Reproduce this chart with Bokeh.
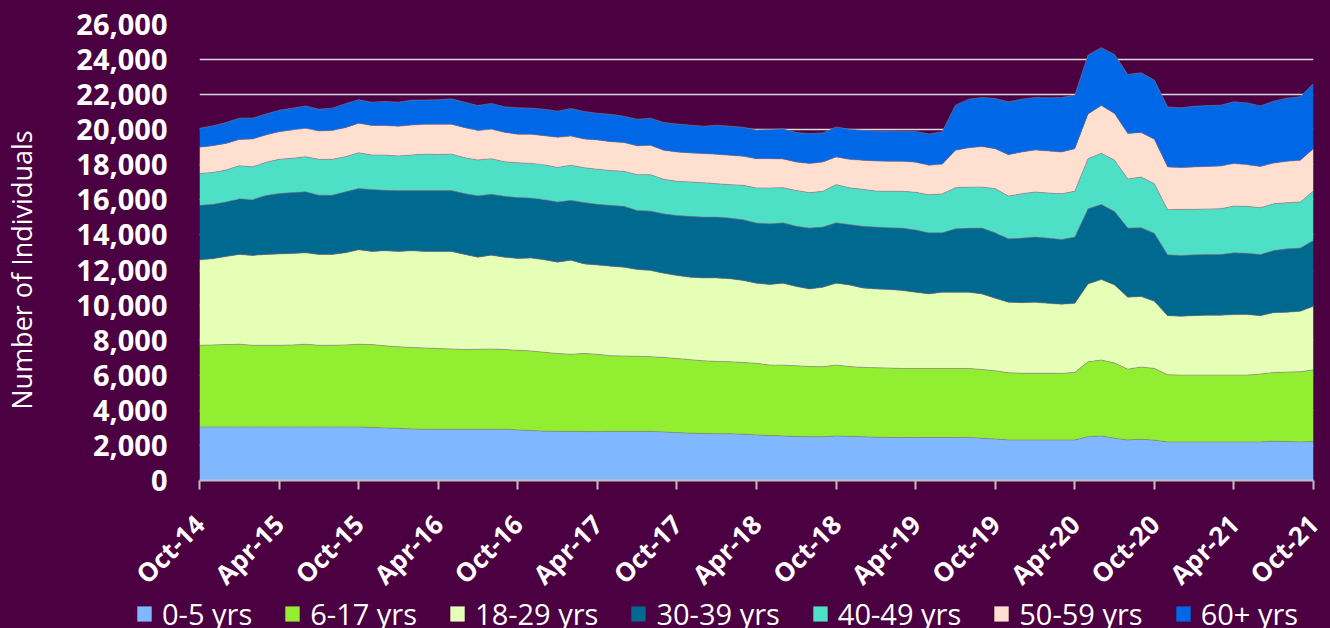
import numpy as np
from bokeh.plotting import figure
from bokeh.layouts import column
from bokeh.models import (ColumnDataSource, FixedTicker, NumeralTickFormatter,
                          Legend, LegendItem)
from bokeh.embed import file_html
from bokeh.resources import INLINE
import math

# ---------------- data (monthly, Oct-14 .. Oct-21) ----------------
tick_labels = ["Oct-14", "Apr-15", "Oct-15", "Apr-16", "Oct-16", "Apr-17", "Oct-17",
               "Apr-18", "Oct-18", "Apr-19", "Oct-19", "Apr-20", "Oct-20", "Apr-21", "Oct-21"]

age_groups = ["0-5 yrs", "6-17 yrs", "18-29 yrs", "30-39 yrs", "40-49 yrs", "50-59 yrs", "60+ yrs"]

age_0_5 = [3050, 3050, 3050, 3050, 3050, 3050, 3050, 3050, 3050, 3050, 3050, 3050,
           3050, 3020, 3000, 2980, 2940, 2920, 2920, 2920, 2920, 2920, 2920, 2920,
           2880, 2850, 2810, 2810, 2790, 2790, 2780, 2800, 2800, 2790, 2800, 2770,
           2730, 2700, 2680, 2660, 2660, 2640, 2600, 2560, 2540, 2510, 2490, 2490,
           2540, 2520, 2490, 2470, 2450, 2450, 2450, 2450, 2450, 2450, 2450, 2410,
           2370, 2310, 2310, 2310, 2310, 2310, 2310, 2500, 2540, 2410, 2310, 2350,
           2300, 2200, 2200, 2200, 2200, 2200, 2200, 2200, 2200, 2240, 2220, 2200,
           2220]
age_6_17 = [4660, 4680, 4700, 4720, 4660, 4660, 4660, 4680, 4720, 4660, 4660, 4680,
            4720, 4730, 4680, 4640, 4640, 4640, 4600, 4580, 4550, 4560, 4580, 4550,
            4550, 4540, 4500, 4430, 4410, 4450, 4420, 4310, 4300, 4290, 4260, 4250,
            4230, 4190, 4150, 4130, 4110, 4090, 4080, 4020, 4040, 4030, 4010, 4000,
            4040, 3980, 3960, 3960, 3960, 3940, 3940, 3940, 3940, 3940, 3940, 3920,
            3890, 3830, 3810, 3810, 3810, 3800, 3850, 4270, 4330, 4290, 4040, 4120,
            4090, 3830, 3810, 3810, 3810, 3810, 3810, 3810, 3870, 3920, 3960, 4000,
            4090]
age_18_29 = [4870, 4910, 5020, 5120, 5120, 5180, 5210, 5210, 5210, 5180, 5180, 5250,
             5380, 5310, 5420, 5440, 5520, 5500, 5540, 5560, 5420, 5250, 5350, 5260,
             5230, 5290, 5270, 5210, 5360, 5110, 5090, 5110, 5060, 4950, 4910, 4800,
             4730, 4700, 4720, 4760, 4730, 4670, 4570, 4590, 4670, 4520, 4420, 4530,
             4670, 4650, 4530, 4490, 4480, 4440, 4340, 4250, 4340, 4340, 4340, 4310,
             4130, 4020, 4020, 4040, 3980, 3940, 3940, 4440, 4590, 4450, 4100, 4020,
             3830, 3370, 3350, 3390, 3410, 3410, 3450, 3450, 3330, 3410, 3410, 3450,
             3620]
age_30_39 = [3110, 3110, 3110, 3180, 3190, 3360, 3440, 3480, 3480, 3380, 3380, 3480,
             3500, 3530, 3450, 3470, 3430, 3470, 3470, 3470, 3470, 3500, 3470, 3480,
             3470, 3430, 3440, 3430, 3420, 3500, 3460, 3470, 3470, 3370, 3390, 3390,
             3420, 3470, 3470, 3470, 3460, 3470, 3430, 3470, 3440, 3440, 3470, 3430,
             3440, 3450, 3520, 3530, 3520, 3560, 3560, 3480, 3390, 3620, 3660, 3750,
             3730, 3620, 3680, 3720, 3720, 3690, 3780, 4280, 4280, 4190, 3940, 3920,
             3880, 3470, 3470, 3470, 3470, 3470, 3520, 3500, 3490, 3540, 3620, 3600,
             3760]
age_40_49 = [1820, 1810, 1820, 1880, 1870, 1890, 1950, 1950, 2000, 2040, 2040, 2000,
             2040, 1970, 2010, 1970, 2030, 2080, 2060, 2080, 2040, 2040, 2030, 1960,
             1990, 1970, 1980, 1970, 2000, 1980, 2000, 1980, 2000, 2040, 2080, 1960,
             1950, 1960, 1960, 1900, 1910, 1960, 2000, 2040, 2000, 2040, 2020, 2040,
             2180, 2090, 2100, 2050, 2080, 2100, 2140, 2170, 2220, 2340, 2340, 2340,
             2520, 2440, 2530, 2570, 2570, 2610, 2610, 2860, 2920, 2920, 2800, 2890,
             2820, 2570, 2630, 2590, 2590, 2600, 2670, 2670, 2660, 2670, 2630, 2630,
             2810]
age_50_59 = [1490, 1530, 1520, 1500, 1580, 1560, 1580, 1620, 1620, 1620, 1640, 1660,
             1680, 1680, 1680, 1700, 1710, 1700, 1720, 1700, 1720, 1680, 1680, 1680,
             1620, 1660, 1660, 1720, 1660, 1640, 1670, 1650, 1640, 1640, 1670, 1660,
             1670, 1660, 1660, 1680, 1670, 1660, 1670, 1670, 1640, 1620, 1660, 1670,
             1580, 1620, 1660, 1720, 1710, 1710, 1720, 1680, 1690, 2140, 2240, 2310,
             2280, 2360, 2380, 2400, 2400, 2380, 2430, 2540, 2720, 2660, 2590, 2540,
             2540, 2440, 2380, 2420, 2430, 2440, 2420, 2380, 2360, 2320, 2360, 2380,
             2420]
age_60_plus = [1080, 1130, 1190, 1210, 1190, 1190, 1220, 1240, 1280, 1240, 1280, 1360,
               1340, 1330, 1370, 1370, 1420, 1380, 1400, 1450, 1450, 1430, 1470, 1460,
               1510, 1490, 1510, 1490, 1570, 1570, 1520, 1560, 1500, 1520, 1550, 1580,
               1600, 1580, 1560, 1660, 1660, 1650, 1640, 1660, 1720, 1680, 1710, 1660,
               1710, 1720, 1710, 1710, 1730, 1710, 1750, 1790, 1850, 2570, 2770, 2800,
               2860, 3010, 3010, 2990, 3030, 3110, 3050, 3370, 3300, 3370, 3370, 3410,
               3370, 3420, 3410, 3460, 3470, 3470, 3520, 3520, 3450, 3530, 3600, 3620,
               3720]

colors = ["#80B8FF", "#92EE30", "#E5FFB6", "#00698F", "#4EE0C6", "#FFDFD0", "#0068E6"]
BG = "#4B0042"

series = [age_0_5, age_6_17, age_18_29, age_30_39, age_40_49, age_50_59, age_60_plus]
month_idx = np.arange(len(age_0_5))
data = {"x": month_idx}
for g, s in zip(age_groups, series):
    data[g] = s
source = ColumnDataSource(data)

W = 1330
MAIN_H = 612
LEG_H = 36
OVERLAP = MAIN_H + LEG_H - 628

p = figure(width=W, height=MAIN_H, x_range=(0, 84), y_range=(0, 26000),
           output_backend="svg", toolbar_location=None,
           min_border_left=198, min_border_right=17, min_border_top=24,
           min_border_bottom=MAIN_H - 480,
           background_fill_color=BG, border_fill_color=BG)
p.outline_line_color = None
p.outline_line_alpha = 0
p.frame_align = False
p.styles = {"background-color": BG}

renderers = p.varea_stack(stackers=age_groups, x="x", color=colors, source=source)

# thin boundary lines between layers
cum = np.cumsum(np.array(series, dtype=float), axis=0)
for row in cum:
    p.line(month_idx, row, line_color="#8A7F8A", line_width=0.8, line_alpha=0.7)

# grid
p.xgrid.grid_line_color = None
p.ygrid.grid_line_color = "#D9D9D9"
p.ygrid.grid_line_width = 1.5
p.ygrid.ticker = FixedTicker(ticks=list(range(0, 26001, 2000)))

# y axis
p.yaxis.ticker = FixedTicker(ticks=list(range(0, 26001, 2000)))
p.yaxis.formatter = NumeralTickFormatter(format="0,0")
p.yaxis.axis_line_color = None
p.yaxis.major_tick_line_color = None
p.yaxis.minor_tick_line_color = None
p.yaxis.major_tick_out = 0
p.yaxis.major_tick_in = 0
p.yaxis.major_label_standoff = 32
p.yaxis.major_label_text_font = "Open Sans"
p.yaxis.major_label_text_font_style = "bold"
p.yaxis.major_label_text_font_size = "29px"
p.yaxis.major_label_text_color = "white"
p.yaxis.axis_label = "Number of Individuals" + "\u00a0" * 5
p.yaxis.axis_label_text_font = "Open Sans"
p.yaxis.axis_label_text_font_style = "normal"
p.yaxis.axis_label_text_font_size = "27px"
p.yaxis.axis_label_text_color = "white"
p.yaxis.axis_label_standoff = 33

# x axis
p.xaxis.ticker = FixedTicker(ticks=list(range(0, 85, 6)))
p.xaxis.major_label_overrides = {i * 6: lab for i, lab in enumerate(tick_labels)}
p.xaxis.major_label_orientation = math.pi / 4
p.xaxis.axis_line_color = "#BFBFBF"
p.xaxis.axis_line_width = 2
p.xaxis.major_tick_line_color = "#BFBFBF"
p.xaxis.major_tick_line_width = 2
p.xaxis.major_tick_out = 9
p.xaxis.major_tick_in = 0
p.xaxis.minor_tick_line_color = None
p.xaxis.major_label_standoff = 30
p.xaxis.major_label_text_font = "Open Sans"
p.xaxis.major_label_text_font_style = "bold"
p.xaxis.major_label_text_font_size = "26px"
p.xaxis.major_label_text_color = "white"

# ---------------- legend strip ----------------
p2 = figure(width=W, height=LEG_H, x_range=(0, 1), y_range=(0, 1),
            output_backend="svg", toolbar_location=None,
            x_axis_location=None, y_axis_location=None,
            min_border_left=0, min_border_right=0, min_border_top=0, min_border_bottom=0,
            background_fill_color=BG, border_fill_color=BG)
p2.outline_line_color = None
p2.outline_line_alpha = 0
p2.frame_align = False
p2.grid.visible = False
p2.margin = (-OVERLAP, 0, 0, 0)
p2.styles = {"background-color": BG}
# invisible (off-range) dummy areas that only carry the legend swatches
leg_renderers = [p2.varea(x=[0, 1], y1=[-5, -5], y2=[-4, -4], color=c) for c in colors]
legend = Legend(items=[LegendItem(label=g, renderers=[r]) for g, r in zip(age_groups, leg_renderers)],
                orientation="horizontal", location=(135, -5),
                padding=0, margin=0, spacing=31, label_standoff=9,
                glyph_width=18, glyph_height=19,
                label_text_font="Open Sans", label_text_font_size="29px",
                label_text_color="white",
                border_line_color=None, background_fill_alpha=0)
p2.add_layout(legend, "center")

layout = column(p, p2, spacing=0)
layout.styles = {"background-color": BG}
open("out.html", "w").write(file_html(layout, INLINE))
